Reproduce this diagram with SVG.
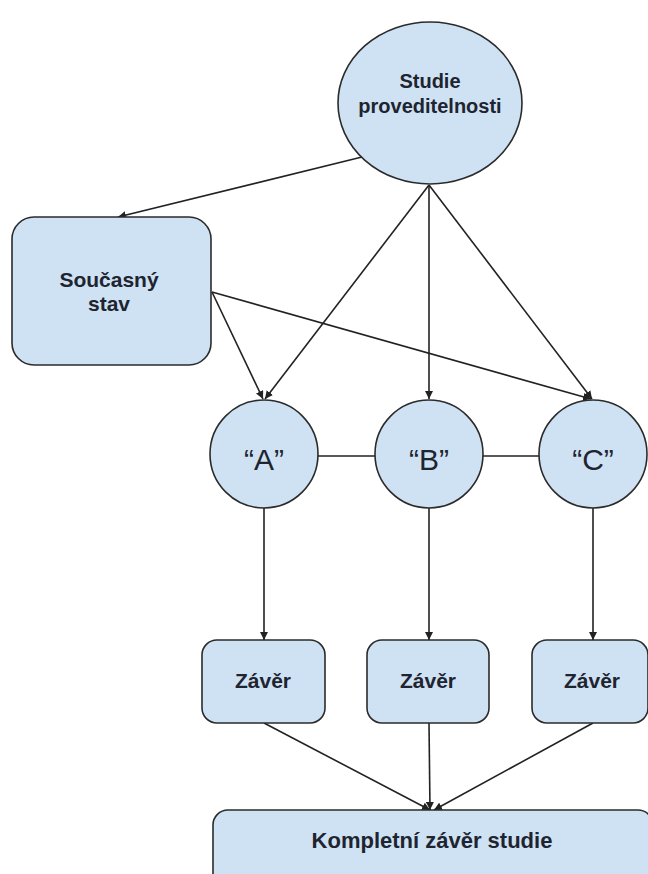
<svg xmlns="http://www.w3.org/2000/svg" width="648" height="874" viewBox="0 0 648 874">
<style>
.n{fill:#cfe2f3;stroke:#2b2b2b;stroke-width:1.6}
.t{font-family:"Liberation Sans",Arial,sans-serif;font-weight:bold;fill:#1e2430;text-anchor:middle}
.q{font-family:"Liberation Sans",Arial,sans-serif;fill:#1e2430;text-anchor:middle;font-size:30px}
.c{stroke:#222;stroke-width:1.6;fill:none}
.a{stroke:#222;stroke-width:1.6;fill:none;marker-end:url(#ah)}
</style>
<defs>
<marker id="ah" viewBox="0 0 10 10" refX="10" refY="5" markerWidth="5" markerHeight="5" orient="auto" markerUnits="strokeWidth">
<path d="M0,0 L10,5 L0,10 z" fill="#222"/>
</marker>
</defs>
<rect width="648" height="874" fill="#ffffff"/>
<g id="connectors">
<line class="a" x1="362" y1="157" x2="118" y2="217"/>
<line class="a" x1="429" y1="185" x2="265" y2="399"/>
<line class="a" x1="429" y1="185" x2="429" y2="399"/>
<line class="a" x1="429" y1="185" x2="592" y2="399"/>
<line class="a" x1="212" y1="292" x2="263" y2="399"/>
<line class="a" x1="212" y1="292" x2="591" y2="399"/>
<line class="c" x1="318" y1="456" x2="375" y2="456"/>
<line class="c" x1="483" y1="456" x2="539" y2="456"/>
<line class="a" x1="264" y1="508" x2="264" y2="640"/>
<line class="a" x1="429" y1="508" x2="429" y2="640"/>
<line class="a" x1="593" y1="508" x2="593" y2="640"/>
<line class="a" x1="264" y1="723" x2="430" y2="810"/>
<line class="a" x1="429" y1="723" x2="430" y2="810"/>
<line class="a" x1="593" y1="723" x2="434" y2="810"/>
</g>
<g id="studie">
<ellipse class="n" cx="430" cy="103" rx="92" ry="81"/>
<text class="t" x="430" y="88" font-size="20">Studie</text>
<text class="t" x="430" y="113" font-size="20">proveditelnosti</text>
</g>
<g id="soucasny">
<rect class="n" x="12" y="217" width="199" height="148" rx="22"/>
<text class="t" x="109" y="287" font-size="21">Současný</text>
<text class="t" x="109" y="311" font-size="21">stav</text>
</g>
<g id="A">
<circle class="n" cx="264" cy="454" r="54"/>
<text class="q" x="264" y="470">“A”</text>
</g>
<g id="B">
<circle class="n" cx="429" cy="454" r="54"/>
<text class="q" x="429" y="470">“B”</text>
</g>
<g id="C">
<circle class="n" cx="593" cy="454" r="54"/>
<text class="q" x="593" y="470">“C”</text>
</g>
<g id="zaver1">
<rect class="n" x="202" y="640" width="123" height="83" rx="15"/>
<text class="t" x="263" y="688" font-size="21">Závěr</text>
</g>
<g id="zaver2">
<rect class="n" x="367" y="640" width="122" height="83" rx="15"/>
<text class="t" x="428" y="688" font-size="21">Závěr</text>
</g>
<g id="zaver3">
<rect class="n" x="532" y="640" width="116" height="83" rx="15"/>
<text class="t" x="592" y="688" font-size="21">Závěr</text>
</g>
<g id="kompletni">
<rect class="n" x="213" y="810" width="440" height="90" rx="15"/>
<text class="t" x="432" y="848" font-size="22">Kompletní závěr studie</text>
</g>
</svg>
